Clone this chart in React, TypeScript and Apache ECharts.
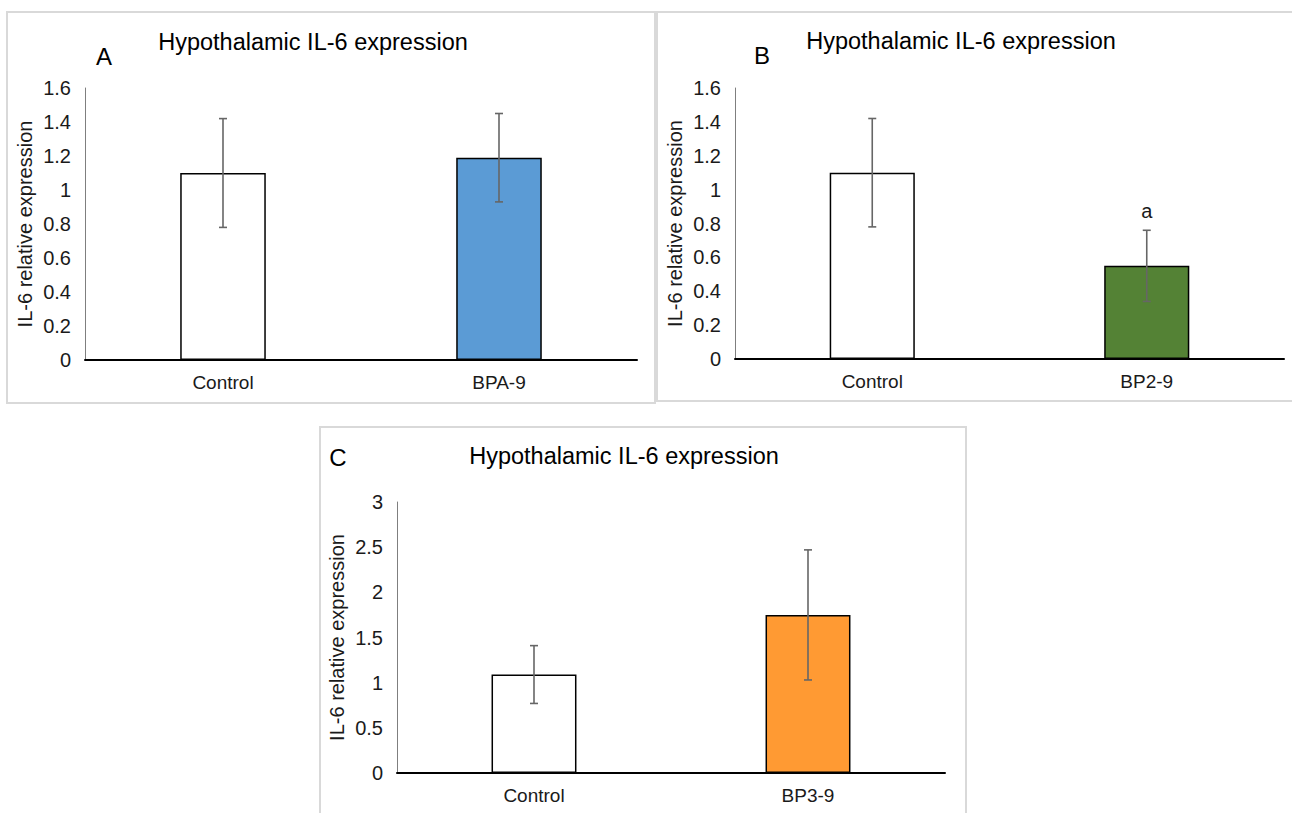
import React, { useEffect, useRef } from "react";
import * as echarts from "echarts";

// ---- data ----
const titleText = "Hypothalamic IL-6 expression";
const yName = "IL-6 relative expression";
const panelLetters = ["A", "B", "C"];

const catsA = ["Control", "BPA-9"];
const meanA = [1.1, 1.19];
const errA = [0.32, 0.26];
const sigA = ["", ""];

const catsB = ["Control", "BP2-9"];
const meanB = [1.1, 0.55];
const errB = [0.32, 0.21];
const sigB = ["", "a"];

const catsC = ["Control", "BP3-9"];
const meanC = [1.09, 1.75];
const errC = [0.32, 0.72];
const sigC = ["", ""];

const yMaxA = 1.6, yStepA = 0.2;
const yMaxB = 1.6, yStepB = 0.2;
const yMaxC = 3, yStepC = 0.5;

const colorsA = ["#ffffff", "#5b9bd5"];
const colorsB = ["#ffffff", "#548235"];
const colorsC = ["#ffffff", "#ff9a33"];

const FONT = "'Liberation Sans', Arial, sans-serif";
const TXT = "#1a1a1a";

export default function App() {
  const ref = useRef<HTMLDivElement>(null);
  useEffect(() => {
    if (!ref.current) return;
    const chart = echarts.init(ref.current, undefined, { renderer: "svg" });

    const grids = [
      { left: 85, top: 88, width: 552, height: 272 },
      { left: 735, top: 88, width: 549, height: 271 },
      { left: 397, top: 502, width: 548, height: 271 },
    ];
    const cats = [catsA, catsB, catsC];
    const means = [meanA, meanB, meanC];
    const errs = [errA, errB, errC];
    const sigs = [sigA, sigB, sigC];
    const colors = [colorsA, colorsB, colorsC];
    const yMax = [yMaxA, yMaxB, yMaxC];
    const yStep = [yStepA, yStepB, yStepC];

    const xAxis = cats.map((c, i) => ({
      type: "category",
      gridIndex: i,
      data: c,
      axisLine: { lineStyle: { color: "#000", width: 2 } },
      axisTick: { show: false },
      axisLabel: { color: TXT, fontSize: 19, fontFamily: FONT, margin: 13 },
    }));
    const yAxis = cats.map((_, i) => ({
      type: "value",
      gridIndex: i,
      min: 0,
      max: yMax[i],
      interval: yStep[i],
      name: yName,
      nameLocation: "middle",
      nameGap: 50,
      nameTextStyle: { color: TXT, fontSize: 20, fontFamily: FONT },
      axisLine: { show: true, lineStyle: { color: "#7f7f7f", width: 1 } },
      axisTick: { show: false },
      splitLine: { show: false },
      axisLabel: { color: TXT, fontSize: 20, fontFamily: FONT, margin: 14 },
    }));

    const series: any[] = [];
    cats.forEach((c, i) => {
      series.push({
        type: "bar",
        xAxisIndex: i,
        yAxisIndex: i,
        barWidth: "31%",
        data: means[i].map((v, j) => ({
          value: v,
          itemStyle: { color: colors[i][j], borderColor: "#000", borderWidth: 1.5 },
        })),
      });
      series.push({
        type: "custom",
        xAxisIndex: i,
        yAxisIndex: i,
        z: 10,
        data: means[i].map((v, j) => [j, v - errs[i][j], v + errs[i][j], j]),
        renderItem: (params: any, api: any) => {
          const x = api.value(0);
          const lo = api.value(1);
          const hi = api.value(2);
          const idx = api.value(3);
          const pHi = api.coord([x, hi]);
          const pLo = api.coord([x, lo]);
          const hw = 4;
          const st = { stroke: "#666666", lineWidth: 1.6 };
          const children: any[] = [
            { type: "line", shape: { x1: pHi[0], y1: pHi[1], x2: pLo[0], y2: pLo[1] }, style: st },
            { type: "line", shape: { x1: pHi[0] - hw, y1: pHi[1], x2: pHi[0] + hw, y2: pHi[1] }, style: st },
            { type: "line", shape: { x1: pLo[0] - hw, y1: pLo[1], x2: pLo[0] + hw, y2: pLo[1] }, style: st },
          ];
          const s = sigs[i][idx];
          if (s) {
            children.push({
              type: "text",
              x: pHi[0],
              y: pHi[1] - 19,
              style: {
                text: s,
                fill: TXT,
                font: `20px ${FONT}`,
                textAlign: "center",
                textVerticalAlign: "middle",
              },
            });
          }
          return { type: "group", children };
        },
      });
    });

    const border = { stroke: "#d9d9d9", lineWidth: 2, fill: "none" };
    const titleStyle = (x: number, y: number, t: string, size: number) => ({
      type: "text",
      x,
      y,
      style: {
        text: t,
        fill: "#000",
        font: `${size}px ${FONT}`,
        textAlign: "center",
        textVerticalAlign: "middle",
      },
    });

    chart.setOption({
      animation: false,
      backgroundColor: "#ffffff",
      grid: grids,
      xAxis,
      yAxis,
      series,
      graphic: [
        { type: "rect", shape: { x: 7, y: 12, width: 648, height: 391 }, style: border, silent: true },
        { type: "rect", shape: { x: 657, y: 12, width: 645, height: 389 }, style: border, silent: true },
        { type: "rect", shape: { x: 320, y: 427, width: 646, height: 400 }, style: border, silent: true },
        titleStyle(313, 42, titleText, 23.5),
        titleStyle(961, 41, titleText, 23.5),
        titleStyle(624, 456, titleText, 23.5),
        titleStyle(104, 56, panelLetters[0], 24),
        titleStyle(762, 55, panelLetters[1], 24),
        titleStyle(338, 457, panelLetters[2], 24),
      ],
    });
    return () => chart.dispose();
  }, []);
  return (
    <div
      ref={ref}
      style={{ position: "fixed", left: 0, top: 0, width: 1292, height: 813, background: "#fff" }}
    />
  );
}
